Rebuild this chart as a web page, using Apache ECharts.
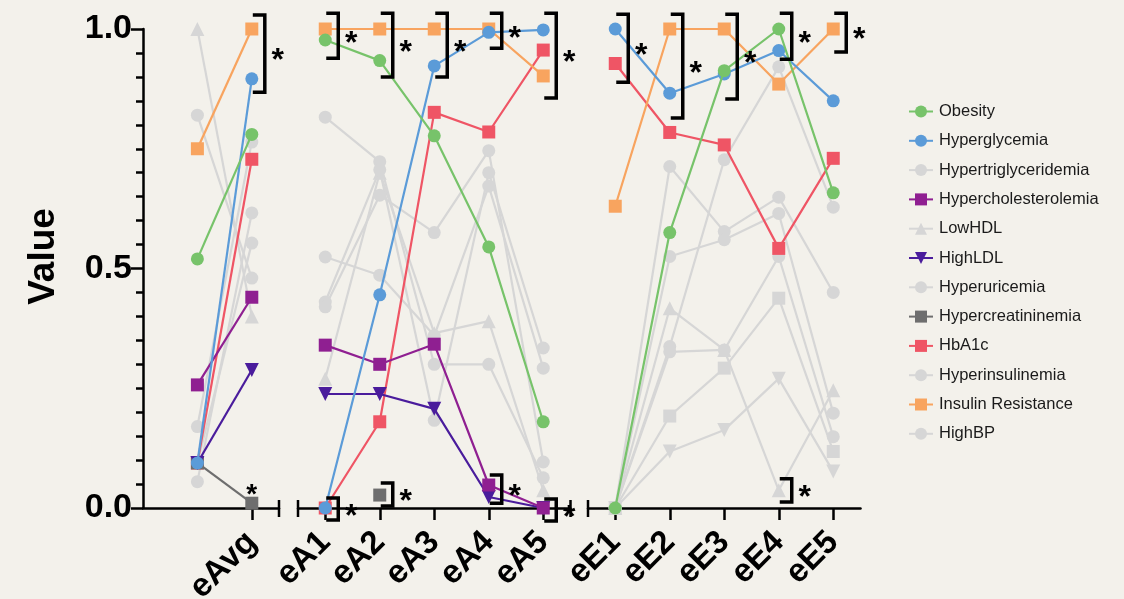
<!DOCTYPE html>
<html>
<head>
<meta charset="utf-8">
<script src="https://cdn.jsdelivr.net/npm/echarts@6/dist/echarts.min.js"></script>
<style>
  html, body { margin: 0; padding: 0; background: #F3F1EB; }
  #chart { width: 1124px; height: 599px; }
</style>
</head>
<body>
<div id="chart"></div>
<script>
// Category labels of the three panels
const avgCats = ['', 'eAvg'];
const aCats = ['eA1', 'eA2', 'eA3', 'eA4', 'eA5'];
const eCats = ['eE1', 'eE2', 'eE3', 'eE4', 'eE5'];

// Values per trait: [baseline, eAvg, eA1..eA5, eE1..eE5]
const obesity            = [0.52, 0.78,  0.977, 0.934, 0.777, 0.545, 0.18,   0,    0.575, 0.913, 1.0,   0.658];
const hyperglycemia      = [0.094, 0.896, 0,    0.445, 0.923, 0.993, 0.998,  1.0,  0.866, 0.906, 0.955, 0.85];
const hypertriglyceridemia = [0.82, 0.48, 0.816, 0.723, 0.30,  0.30,  0.063, 0,    0.337, 0.727, 0.921, 0.628];
const hypercholesterolemia = [0.257, 0.44, 0.34, 0.30,  0.342, 0.048, 0,     0,    0.192, 0.292, 0.438, 0.118];
const lowHDL             = [1.0,  0.40,  0.27,  0.70,  0.365, 0.39,  0.037,  0,    0.417, 0.33,  0.037, 0.246];
const highLDL            = [0.094, 0.288, 0.238, 0.238, 0.207, 0.023, 0,     0,    0.118, 0.163, 0.27,  0.076];
const hyperuricemia      = [0.17, 0.764, 0.524, 0.486, 0.36,  0.672, 0.292,  0,    0.713, 0.577, 0.649, 0.45];
const hypercreatininemia = [0.094, 0.01, null,  0.027, null,  null,  null,   null, null,  null,  null,  null];
const hba1c              = [0.094, 0.728, 0,    0.18,  0.826, 0.785, 0.956,  0.928, 0.784, 0.758, 0.542, 0.73];
const hyperinsulinemia   = [0.055, 0.616, 0.43, 0.706, 0.183, 0.70,  0.334,  0,    0.525, 0.56,  0.615, 0.198];
const insulinResistance  = [0.75, 1.0,   1.0,   1.0,   1.0,   1.0,   0.902,  0.63, 1.0,   1.0,   0.885, 1.0];
const highBP             = [0.094, 0.553, 0.42, 0.653, 0.575, 0.746, 0.096,  0,    0.326, 0.33,  0.525, 0.149];

const traitNames = ['Obesity', 'Hyperglycemia', 'Hypertriglyceridemia', 'Hypercholesterolemia', 'LowHDL', 'HighLDL',
  'Hyperuricemia', 'Hypercreatininemia', 'HbA1c', 'Hyperinsulinemia', 'Insulin Resistance', 'HighBP'];
const traitValues = [obesity, hyperglycemia, hypertriglyceridemia, hypercholesterolemia, lowHDL, highLDL,
  hyperuricemia, hypercreatininemia, hba1c, hyperinsulinemia, insulinResistance, highBP];

// Traits drawn in colour in each panel (the rest are grey)
const colouredAvg = ['Obesity', 'Hyperglycemia', 'Hypercholesterolemia', 'HighLDL', 'Hypercreatininemia', 'HbA1c', 'Insulin Resistance'];
const colouredA = colouredAvg;
const colouredE = ['Obesity', 'Hyperglycemia', 'HbA1c', 'Insulin Resistance'];

// Significance brackets: [category index, upper end, lower end]
const bracketsAvg = [[1, 1.029, 0.868]];
const bracketsA = [[0, 1.033, 0.939], [1, 1.033, 0.90], [2, 1.033, 0.90], [3, 1.033, 0.96], [4, 1.033, 0.856],
  [0, 0.021, -0.025], [1, 0.052, 0.004], [3, 0.069, 0.010], [4, 0.019, -0.027]];
const bracketsE = [[0, 1.031, 0.889], [1, 1.031, 0.814], [2, 1.031, 0.854], [3, 1.033, 0.937], [4, 1.033, 0.952],
  [3, 0.061, 0.0125]];
// Lone asterisks: [category index, value of the marked point]
const starsAvg = [[1, 0.01]];

const yTicks = [0, 0.5, 1.0];

// ---- styling ----
const GREY = '#D6D6D6';
const traitStyle = {
  'Obesity':              { color: '#77C36A', symbol: 'circle',   rank: 7 },
  'Hyperglycemia':        { color: '#5B9BD8', symbol: 'circle',   rank: 6 },
  'Hypertriglyceridemia': { color: GREY,      symbol: 'circle',   rank: 0 },
  'Hypercholesterolemia': { color: '#8F1F91', symbol: 'rect',     rank: 4 },
  'LowHDL':               { color: GREY,      symbol: 'triangle', rank: 0 },
  'HighLDL':              { color: '#4A1C9C', symbol: 'triangle', rank: 3, rotate: 180 },
  'Hyperuricemia':        { color: GREY,      symbol: 'circle',   rank: 0 },
  'Hypercreatininemia':   { color: '#6E6E6E', symbol: 'rect',     rank: 2 },
  'HbA1c':                { color: '#EF5565', symbol: 'rect',     rank: 1 },
  'Hyperinsulinemia':     { color: GREY,      symbol: 'circle',   rank: 0 },
  'Insulin Resistance':   { color: '#F8A45F', symbol: 'rect',     rank: 5 },
  'HighBP':               { color: GREY,      symbol: 'circle',   rank: 0 }
};

const FONT = '"Liberation Sans", Arial, Helvetica, sans-serif';
const TOP = 29, HEIGHT = 479;
const grids = [
  { left: 143, top: TOP, width: 136, height: HEIGHT, containLabel: false, outerBoundsMode: 'none' },
  { left: 298, top: TOP, width: 272.5, height: HEIGHT, containLabel: false, outerBoundsMode: 'none' },
  { left: 588, top: TOP, width: 272.5, height: HEIGHT, containLabel: false, outerBoundsMode: 'none' }
];

const panels = [
  { cats: avgCats, from: 0, to: 2, coloured: colouredAvg, brackets: bracketsAvg, stars: starsAvg },
  { cats: aCats, from: 2, to: 7, coloured: colouredA, brackets: bracketsA, stars: [] },
  { cats: eCats, from: 7, to: 12, coloured: colouredE, brackets: bracketsE, stars: [] }
];

const axisLineStyle = { color: '#000', width: 2.5 };
const xLabelStyle = { color: '#000', fontFamily: FONT, fontWeight: 'bold', fontSize: 33, rotate: 45, margin: 29 };

const xAxes = [
  {
    gridIndex: 0, type: 'value', min: -1, max: 1.5, interval: 1,
    axisLine: { show: true, onZero: false, lineStyle: axisLineStyle },
    axisTick: { show: true, customValues: [1], length: 12, lineStyle: axisLineStyle },
    axisLabel: Object.assign({ customValues: [1], formatter: v => avgCats[Math.round(v)] || '' }, xLabelStyle),
    splitLine: { show: false }
  },
  {
    gridIndex: 1, type: 'category', data: aCats, boundaryGap: true,
    axisLine: { show: true, onZero: false, lineStyle: axisLineStyle },
    axisTick: { show: true, alignWithLabel: true, length: 12, lineStyle: axisLineStyle },
    axisLabel: Object.assign({ interval: 0 }, xLabelStyle),
    splitLine: { show: false }
  },
  {
    gridIndex: 2, type: 'category', data: eCats, boundaryGap: true,
    axisLine: { show: true, onZero: false, lineStyle: axisLineStyle },
    axisTick: { show: true, alignWithLabel: true, length: 12, lineStyle: axisLineStyle },
    axisLabel: Object.assign({ interval: 0 }, xLabelStyle),
    splitLine: { show: false }
  }
];

const yAxes = [
  {
    gridIndex: 0, type: 'value', min: 0, max: 1, interval: 0.5,
    name: 'Value', nameLocation: 'middle', nameGap: 81,
    nameTextStyle: { color: '#000', fontFamily: FONT, fontWeight: 'bold', fontSize: 37, padding: [0, 0, 0, 24] },
    axisLine: { show: true, onZero: false, lineStyle: axisLineStyle },
    axisTick: { show: true, length: 12, lineStyle: axisLineStyle },
    minorTick: { show: true, splitNumber: 10, length: 7, lineStyle: { color: '#000', width: 2.5 } },
    axisLabel: { color: '#000', fontFamily: FONT, fontWeight: 'bold', fontSize: 34, margin: 11,
      customValues: yTicks, formatter: v => v.toFixed(1) },
    splitLine: { show: false }
  },
  { gridIndex: 1, type: 'value', min: 0, max: 1, show: false },
  { gridIndex: 2, type: 'value', min: 0, max: 1, show: false }
];

const series = [];
panels.forEach((p, gi) => {
  traitNames.forEach((name, ti) => {
    const st = traitStyle[name];
    const coloured = p.coloured.indexOf(name) >= 0;
    const color = coloured ? st.color : GREY;
    const vals = traitValues[ti].slice(p.from, p.to);
    const data = gi === 0 ? vals.map((v, i) => [i, v]) : vals;
    series.push({
      type: 'line', name: name, xAxisIndex: gi, yAxisIndex: gi,
      data: data, symbol: st.symbol, symbolSize: st.symbol === 'triangle' ? 14 : 13,
      symbolRotate: st.rotate || 0, showSymbol: true, showAllSymbol: true,
      connectNulls: false, clip: false,
      z: coloured ? 3 + st.rank : 2,
      lineStyle: { color: color, width: 2.2 },
      itemStyle: { color: color, borderWidth: 0 },
      emphasis: { disabled: true }
    });
  });
});

function renderBracket(params, api) {
  const x = api.value(0);
  const pTop = api.coord([x, api.value(1)]);
  const pBot = api.coord([x, api.value(2)]);
  const x0 = pTop[0] + 1, x1 = pTop[0] + 13;
  return {
    type: 'group',
    children: [
      { type: 'polyline',
        shape: { points: [[x0, pTop[1]], [x1, pTop[1]], [x1, pBot[1]], [x0, pBot[1]]] },
        style: { stroke: '#000', lineWidth: 3.5, fill: null, lineJoin: 'miter' } },
      { type: 'text',
        style: { text: '*', x: x1 + 13, y: (pTop[1] + pBot[1]) / 2 + 8, fill: '#000',
          font: 'bold 32px ' + FONT, align: 'center', verticalAlign: 'middle' } }
    ]
  };
}

function renderStar(params, api) {
  const p = api.coord([api.value(0), api.value(1)]);
  return { type: 'text',
    style: { text: '*', x: p[0], y: p[1] - 8, fill: '#000',
      font: 'bold 28px ' + FONT, align: 'center', verticalAlign: 'middle' } };
}

panels.forEach((p, gi) => {
  series.push({ type: 'custom', xAxisIndex: gi, yAxisIndex: gi, data: p.brackets,
    renderItem: renderBracket, clip: false, z: 20, silent: true });
  if (p.stars.length) {
    series.push({ type: 'custom', xAxisIndex: gi, yAxisIndex: gi, data: p.stars,
      renderItem: renderStar, clip: false, z: 20, silent: true });
  }
});

// Broken-axis end caps on the x axis
const axisY = TOP + HEIGHT;
const capXs = [grids[0].left + grids[0].width, grids[1].left, grids[1].left + grids[1].width, grids[2].left];
const graphic = capXs.map(x => ({
  type: 'line', shape: { x1: x, y1: axisY - 8, x2: x, y2: axisY + 9 },
  style: { stroke: '#000', lineWidth: 2.5 }, z: 10
}));

const chart = echarts.init(document.getElementById('chart'), null, { renderer: 'canvas' });
chart.setOption({
  backgroundColor: '#F3F1EB',
  animation: false,
  grid: grids,
  xAxis: xAxes,
  yAxis: yAxes,
  legend: {
    data: traitNames, orient: 'vertical', left: 903, top: 98,
    itemWidth: 24, itemHeight: 15, itemGap: 12.3,
    textStyle: { color: '#1A1A1A', fontFamily: FONT, fontSize: 16.5, padding: [0, 0, 0, 1] },
    selectedMode: false
  },
  graphic: graphic,
  series: series
});
</script>
</body>
</html>
